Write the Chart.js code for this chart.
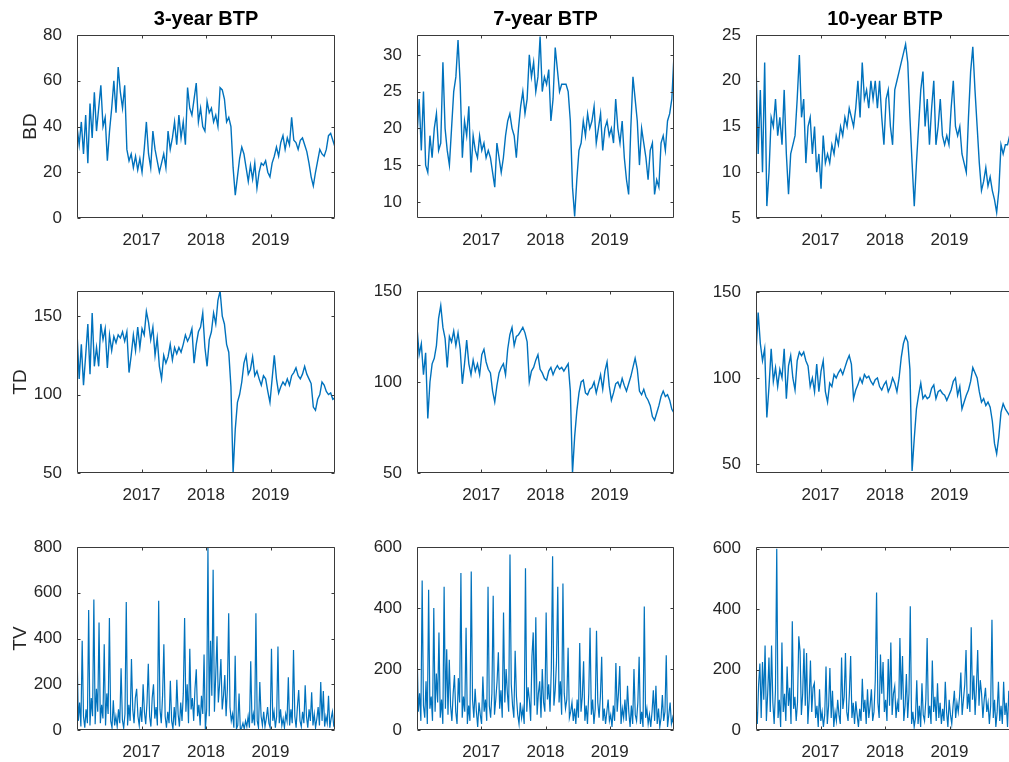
<!DOCTYPE html>
<html>
<head>
<meta charset="utf-8">
<script src="https://cdn.jsdelivr.net/npm/chart.js@4.4.1/dist/chart.umd.min.js"></script>
<style>
  html, body { margin: 0; padding: 0; background: #fff; overflow: hidden; }
  body { width: 1009px; height: 762px; position: relative; }
  canvas { position: absolute; }
</style>
</head>
<body>
<script>
// titles, row labels, x ticks
const titles = ['3-year BTP', '7-year BTP', '10-year BTP'];
const rowLabels = ['BD', 'TD', 'TV'];
const yearTicks = [2017, 2018, 2019];
const startYear = 2016, endYear = 2020;

// BD series (roughly every 12 days)
const bd3 = [
  40,32,42,28,45,24,50,35,55,38, 48,58,40,44,25,38,48,60,46,66,
  55,48,58,30,25,28,22,27,21,26, 20,30,42,28,22,38,30,25,20,24,
  28,22,38,30,35,42,32,45,35,42, 32,57,48,45,52,59,42,48,40,38,
  51,46,48,42,45,40,57,56,52,42, 44,40,22,10,18,26,31,28,22,16,
  23,17,24,13,20,24,23,25,20,18, 24,27,31,27,33,36,30,35,32,44,
  34,33,30,34,35,32,29,24,18,14, 20,25,30,28,27,30,36,37,34,31
];
const bd7 = [
  19,24,17,25,15,14,19,16,20,22, 17,18,29,20,17,15,20,25,27,32,
  26,16,21,19,23,14,19,17,16,19, 17,18,16,17,16,14,12,18,16,14,
  16,19,21,22,20,19,16,20,23,25, 22,24,30,27,29,25,27,32.5,25,27,
  26,28,21,24,31,28,25,26,26,26, 25,21,12,8,13,17,18,21,19,22,
  20,21,23,18,20,22,17,20,21,19, 20,18,24,20,18,21,16,13,11,20,
  27,24,21,15,20,18,16,13,17,18, 11,13,12,18,19,17,21,22,24,30
];
const bd10 = [
  22,12,19,10,22,6.3,10,16,15,18, 14,16,13,19,12,7.6,12,13,14,18,
  22.8,16,18,11,15,16,12,15,10,12, 8.2,14,11,12,11,13,12,14,13,15,
  14,16,15,17,16,15,17,20,16,22, 18,19,17,20,18,20,17,20,16,13,
  18,19,15,13,19,20,21,22,23,24, 22,16,11,6.3,11,15,19,21,15,18,
  13,17,20,13,15,18,14,13,14,13, 17,20,15,14,15,12,11,10,16,21,
  23.7,19,15,11,8,9,10.5,8.5,9.5,8, 7,5.6,8,13,12,13,13,14,13,14
];

// TD series
const td3 = [
  140,110,132,106,125,145,113,152,118,130, 118,145,135,142,117,138,128,137,133,138,
  136,140,134,140,114,125,138,128,143,130, 142,138,153,146,135,143,125,136,118,110,
  125,120,124,132,122,130,126,130,127,132, 138,134,137,142,120,132,140,143,152,130,
  118,135,140,152,145,160,166,150,145,132, 127,105,50,78,95,100,108,120,125,113,
  116,124,112,115,110,106,112,110,102,95, 110,125,110,101,105,108,106,110,106,112,
  114,117,112,110,113,118,113,110,107,92, 90,97,100,108,106,102,100,101,97,98
];
const td7 = [
  130,115,121,104,116,80,100,110,113,120, 135,142,130,124,108,125,122,128,120,127,
  118,99,110,123,110,104,112,106,110,104, 115,118,111,107,105,95,89,98,105,108,
  110,104,118,126,130,120,125,126,128,130, 127,122,100,106,108,112,115,107,105,102,
  101,106,108,104,107,109,107,108,106,108, 110,95,50,70,84,94,100,101,94,93,
  96,97,100,94,99,104,96,106,111,98, 90,94,99,100,97,102,98,95,99,103,
  108,113,107,95,93,96,92,90,87,81, 79,83,87,92,95,92,93,90,85,83
];
const td10 = [
  115,138,120,110,117,77,95,117,98,106, 95,105,100,117,88,107,113,100,93,110,
  115,113,115,110,107,95,100,92,108,92, 104,110,92,86,97,95,102,100,103,105,
  102,106,110,113,108,88,93,96,100,97, 102,100,101,98,96,99,100,95,93,96,
  98,92,95,100,97,92,100,112,120,124, 121,105,46,65,82,90,97,88,90,88,
  89,94,96,88,92,93,91,90,87,90, 93,98,100,90,95,82,86,90,93,98,
  106,103,100,92,86,88,84,86,83,75, 62,56,66,80,85,82,80,78,79,78
];

// TV series (roughly weekly)
const tv3 = [
  370,40,120,15,390,60,10,90,30,525, 20,140,60,570,25,180,80,470,30,110,
  50,375,20,160,70,490,40,10,130,20, 60,15,90,30,270,45,8,70,560,20,
  110,40,310,90,30,140,180,60,20,100, 35,200,80,25,120,290,60,15,140,200,
  50,100,20,565,90,30,150,375,60,10, 80,30,215,40,5,100,20,220,70,15,
  120,40,160,490,80,200,30,355,90,140, 40,180,265,60,110,20,150,70,330,0,
  90,800,60,390,150,700,80,240,410,120, 200,310,90,150,240,60,180,510,100,40,
  70,10,325,5,20,160,0,10,30,5, 40,15,60,10,300,30,70,20,510,40,
  10,210,60,20,80,15,50,100,30,10, 355,40,80,10,60,365,30,90,20,50,
  10,70,40,230,20,90,30,350,60,10, 100,175,40,15,80,30,195,60,10,90,
  40,165,20,70,10,50,100,20,210,40, 170,15,60,30,150,10,50,80,20,30
];
const tv7 = [
  280,60,120,30,490,80,40,160,20,460, 70,110,30,400,60,185,90,320,40,100,
  20,470,70,265,50,230,80,30,120,180, 60,20,170,90,515,40,110,60,335,20,
  80,30,520,100,40,135,60,10,90,50, 20,175,60,100,30,470,80,40,120,440,
  50,100,160,255,70,130,40,385,90,200, 120,60,575,150,80,40,260,110,50,20,
  90,40,70,20,530,60,140,100,30,240, 320,80,370,50,120,160,40,200,90,60,
  385,100,150,60,200,570,80,130,220,470, 90,160,50,480,120,70,100,270,40,60,
  90,30,70,20,100,40,285,60,110,225, 30,80,20,120,335,50,100,20,70,325,
  90,40,110,240,30,70,20,60,100,30, 50,10,80,30,220,60,120,210,20,70,
  40,100,30,145,60,10,80,20,200,50, 30,90,240,20,60,10,405,40,70,20,
  50,10,60,130,30,145,20,70,10,40, 115,30,60,245,10,50,90,20,40,10
];
const tv10 = [
  80,20,150,220,40,225,100,280,30,120, 240,60,280,90,20,130,600,40,100,10,
  290,60,120,30,210,80,140,20,360,70, 110,30,90,310,260,50,120,270,80,255,
  20,100,230,60,140,155,40,80,10,135, 30,60,10,50,210,20,80,205,40,130,
  10,60,30,100,50,20,240,70,110,255, 60,30,120,245,40,90,20,95,50,10,
  70,30,170,60,100,20,135,40,80,135, 30,60,165,455,90,40,250,120,225,60,
  100,30,235,80,290,50,120,145,40,90, 60,305,100,245,30,80,185,40,120,410,
  20,60,10,40,165,20,80,10,155,50, 30,100,305,40,80,20,230,60,110,30,
  155,40,90,20,70,30,160,60,10,100, 50,20,80,130,40,90,60,110,190,50,
  100,150,265,70,120,60,340,100,180,50, 140,265,80,165,120,40,100,140,60,90,
  20,80,365,40,100,10,60,160,30,80, 20,160,50,90,10,130,40,70,20,60
];

// y tick labels per panel
const bd3Ticks = [0, 20, 40, 60, 80];
const bd7Ticks = [10, 15, 20, 25, 30];
const bd10Ticks = [5, 10, 15, 20, 25];
const tdTicks = [50, 100, 150];
const tv3Ticks = [0, 200, 400, 600, 800];
const tvTicks = [0, 200, 400, 600];

const panels = [
  { row: 0, col: 0, data: bd3, ticks: bd3Ticks, min: 0, max: 80 },
  { row: 0, col: 1, data: bd7, ticks: bd7Ticks, min: 7.8, max: 32.7 },
  { row: 0, col: 2, data: bd10, ticks: bd10Ticks, min: 5, max: 25 },
  { row: 1, col: 0, data: td3, ticks: tdTicks, min: 50, max: 166 },
  { row: 1, col: 1, data: td7, ticks: tdTicks, min: 50, max: 150 },
  { row: 1, col: 2, data: td10, ticks: tdTicks, min: 44.8, max: 150.5 },
  { row: 2, col: 0, data: tv3, ticks: tv3Ticks, min: 0, max: 800 },
  { row: 2, col: 1, data: tv7, ticks: tvTicks, min: 0, max: 600 },
  { row: 2, col: 2, data: tv10, ticks: tvTicks, min: 0, max: 606 }
];

const colLeft = [77, 417, 756];
const colW = [258, 257, 258];
const rowTop = [35, 291, 547];
const rowH = [183, 182, 183];
const labelPad = [14, 4, 4]; // MATLAB pushes the row label past the widest tick label
const AXW = 72, TOPSP = 35, BOTSP = 30, RIGHTSP = 8;
const axisColor = '#262626';
const lineColor = '#0072BD';

Chart.defaults.font.family = '"Liberation Sans", Arial, Helvetica, sans-serif';

// box around the axes with inward ticks on all four sides, like MATLAB
const boxPlugin = {
  id: 'matlabBox',
  afterDatasetsDraw(chart) {
    const { ctx, chartArea: a, scales } = chart;
    const L = Math.round(a.left) + 0.5, R = Math.round(a.right) - 0.5;
    const T = Math.round(a.top) + 0.5, B = Math.round(a.bottom) - 0.5;
    ctx.save();
    ctx.strokeStyle = '#3a3a3a';
    ctx.lineWidth = 1;
    ctx.beginPath();
    ctx.rect(L, T, R - L, B - T);
    const len = 3;
    for (const t of scales.x.ticks) {
      const px = Math.round(scales.x.getPixelForValue(t.value)) + 0.5;
      ctx.moveTo(px, B); ctx.lineTo(px, B - len);
      ctx.moveTo(px, T); ctx.lineTo(px, T + len);
    }
    for (const t of scales.y.ticks) {
      const py = Math.round(scales.y.getPixelForValue(t.value)) + 0.5;
      ctx.moveTo(L, py); ctx.lineTo(L + len, py);
      ctx.moveTo(R, py); ctx.lineTo(R - len, py);
    }
    ctx.stroke();
    ctx.restore();
  }
};

panels.forEach(p => {
  const canvas = document.createElement('canvas');
  const w = AXW + colW[p.col] + RIGHTSP;
  const h = TOPSP + rowH[p.row] + BOTSP;
  canvas.width = w;
  canvas.height = h;
  canvas.style.width = w + 'px';
  canvas.style.height = h + 'px';
  canvas.style.left = (colLeft[p.col] - AXW) + 'px';
  canvas.style.top = (rowTop[p.row] - TOPSP) + 'px';
  document.body.appendChild(canvas);

  const n = p.data.length;
  const points = p.data.map((v, i) => ({ x: startYear + (endYear - startYear) * i / (n - 1), y: v }));

  new Chart(canvas.getContext('2d'), {
    type: 'line',
    data: {
      datasets: [{
        data: points,
        borderColor: lineColor,
        borderWidth: p.row === 2 ? 1.2 : 1.4,
        pointRadius: 0,
        tension: 0,
        fill: false
      }]
    },
    options: {
      responsive: false,
      animation: false,
      devicePixelRatio: 1,
      layout: { padding: { top: p.row === 0 ? 0 : TOPSP, right: RIGHTSP, left: 0, bottom: 0 } },
      plugins: {
        legend: { display: false },
        tooltip: { enabled: false },
        title: {
          display: p.row === 0,
          text: titles[p.col],
          color: '#000',
          fullSize: false,
          font: { size: 20, weight: 'bold' },
          padding: { top: 7, bottom: 4 }
        }
      },
      scales: {
        x: {
          type: 'linear',
          min: startYear,
          max: endYear,
          afterBuildTicks: s => { s.ticks = yearTicks.map(v => ({ value: v })); },
          afterFit: s => { s.height = BOTSP; },
          grid: { display: false },
          border: { display: false },
          ticks: {
            padding: 4,
            color: axisColor,
            font: { size: 17 },
            maxRotation: 0,
            autoSkip: false,
            callback: v => String(v)
          }
        },
        y: {
          type: 'linear',
          min: p.min,
          max: p.max,
          afterBuildTicks: s => { s.ticks = p.ticks.map(v => ({ value: v })); },
          afterFit: s => { s.width = AXW; },
          grid: { display: false },
          border: { display: false },
          title: {
            display: p.col === 0,
            text: rowLabels[p.row],
            color: axisColor,
            font: { size: 19 },
            padding: { top: labelPad[p.row], bottom: 0 }
          },
          ticks: {
            padding: 7,
            color: axisColor,
            font: { size: 17 },
            autoSkip: false,
            callback: v => String(v)
          }
        }
      }
    },
    plugins: [boxPlugin]
  });
});
</script>
</body>
</html>
